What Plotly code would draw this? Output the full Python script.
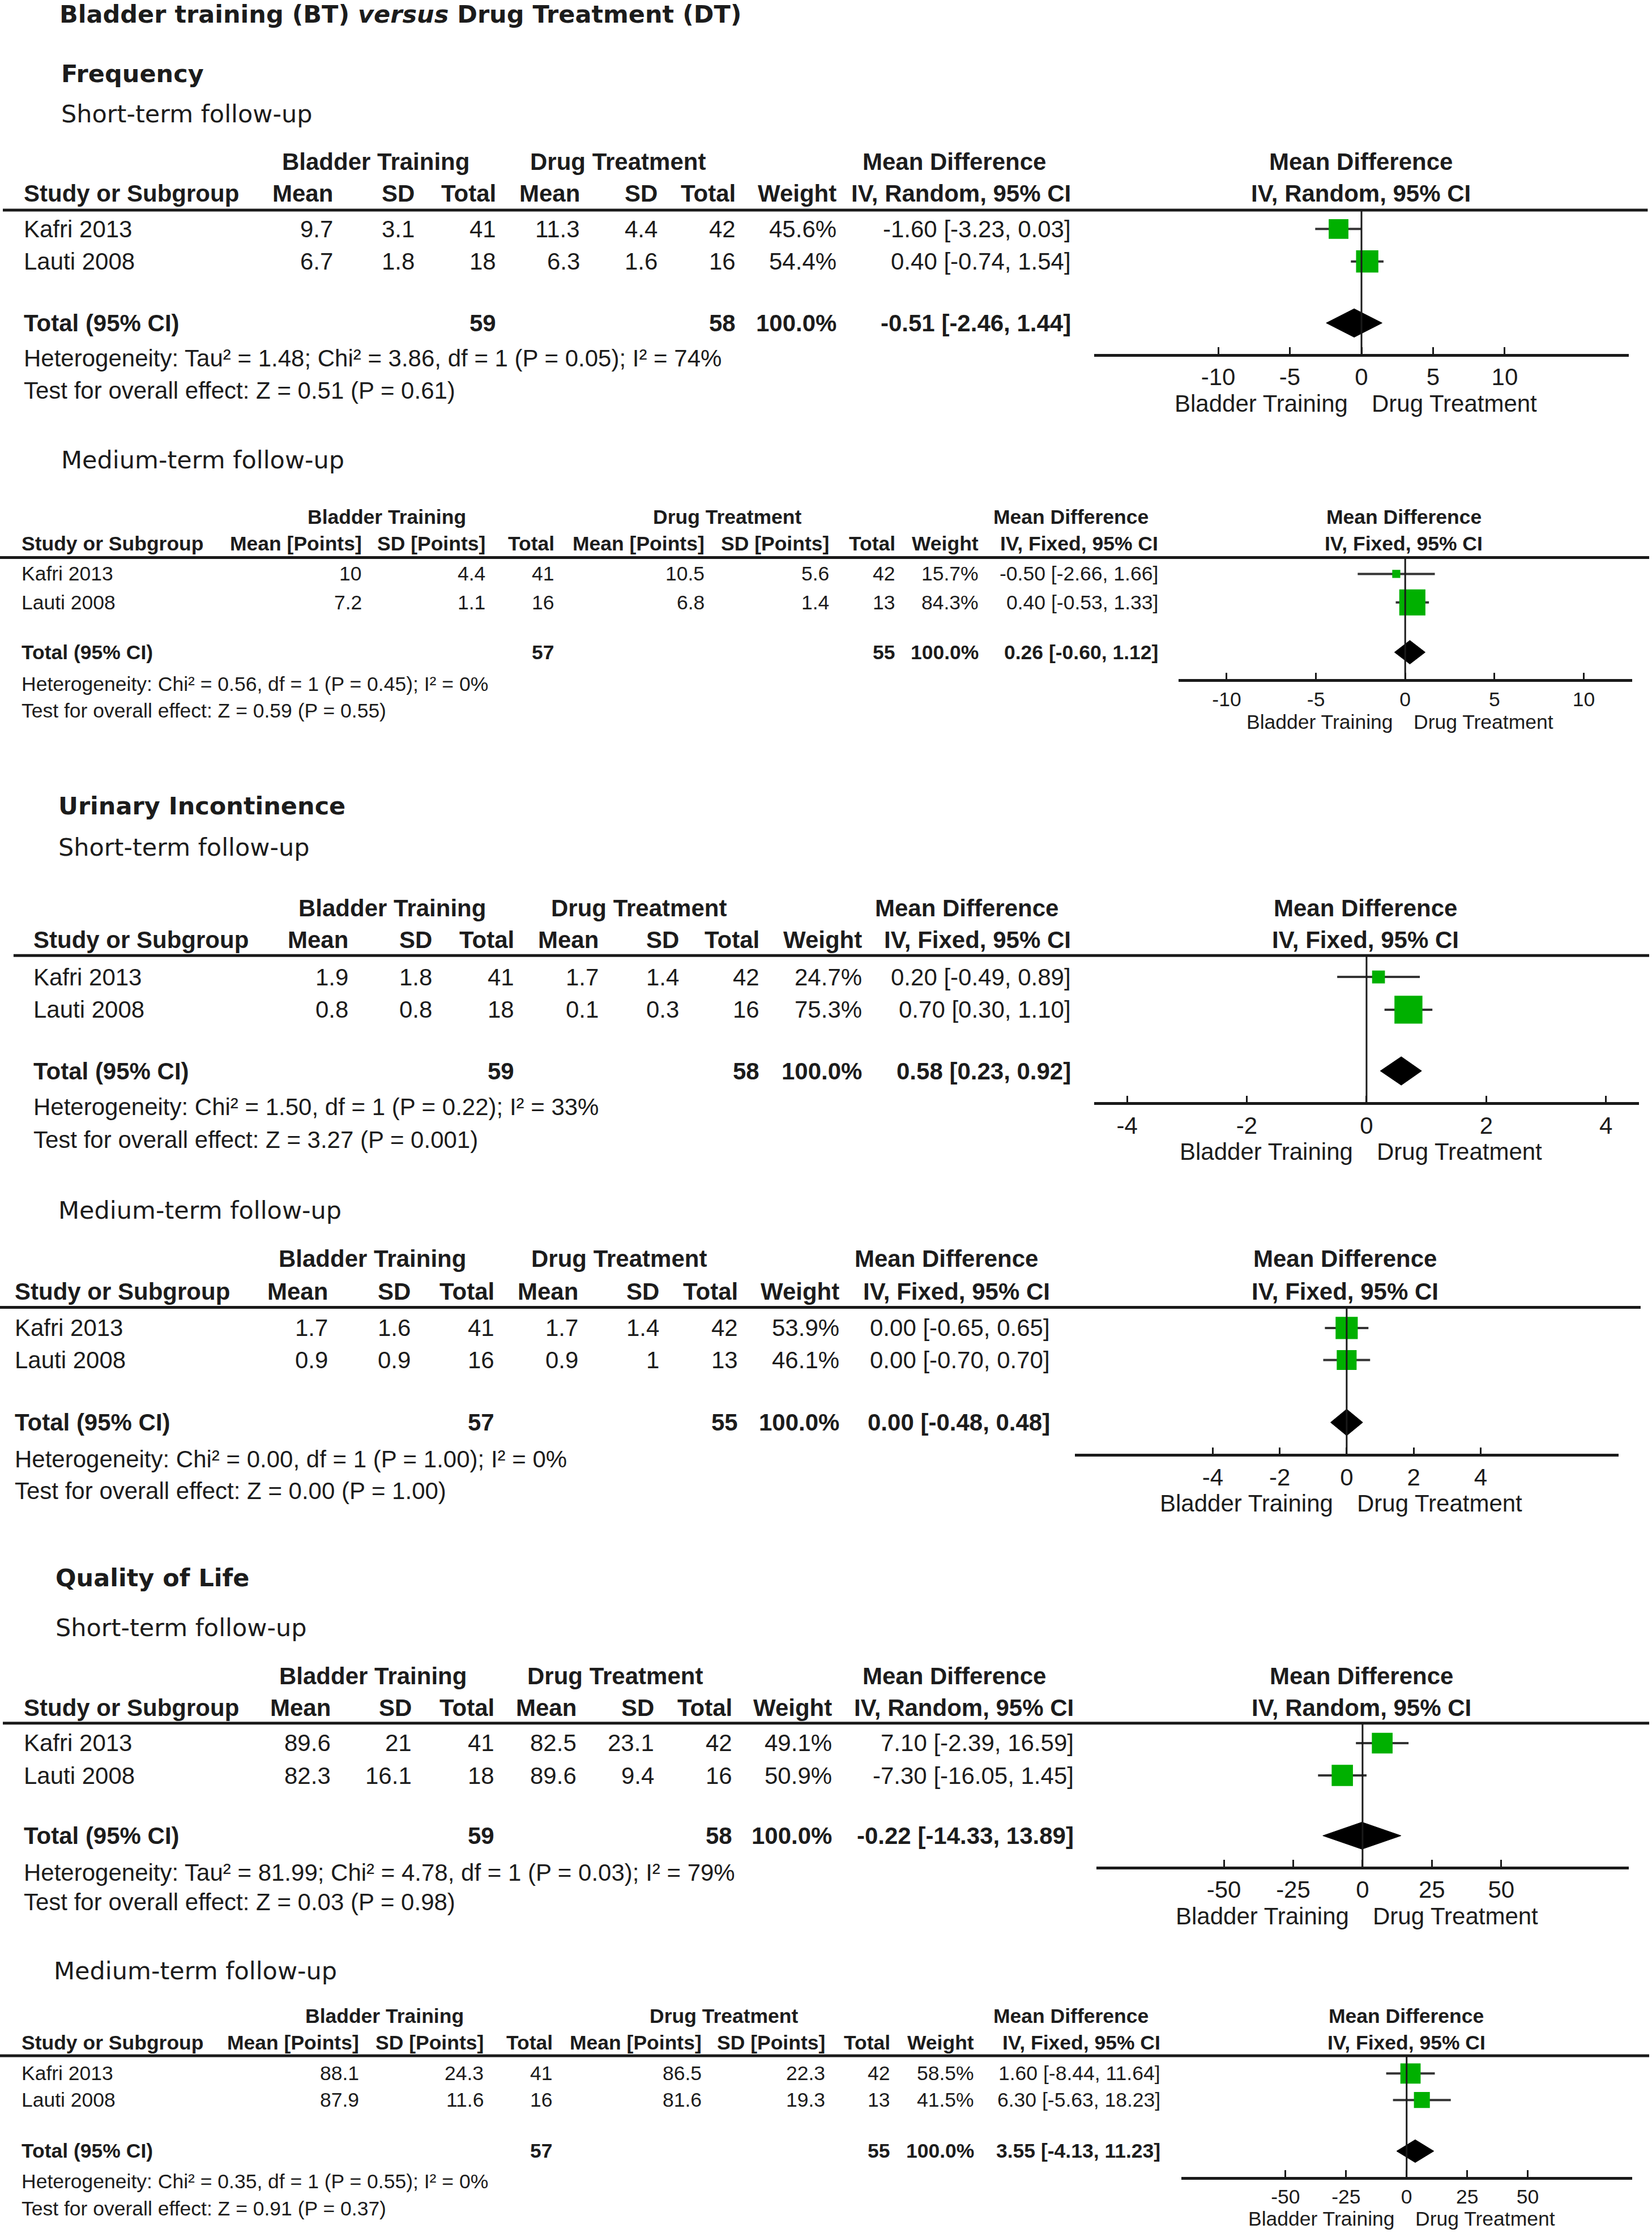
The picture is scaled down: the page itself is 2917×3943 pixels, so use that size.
import plotly.graph_objects as go

W, H = 2917, 3943
RW, RH = 1160.0, 1568.0   # reference layout units (scaled to the figure)

FONT = "Arial, Liberation Sans, Helvetica, sans-serif"
TFONT = "DejaVu Sans, Verdana, sans-serif"
TXT = "#1c1c1c"
GREEN = "#00B000"

# ---------------- data ----------------
studies = ["Kafri 2013", "Lauti 2008"]
total_label = "Total (95% CI)"
side_labels = ["Bladder Training", "Drug Treatment"]
group_labels = ["Bladder Training", "Drug Treatment", "Mean Difference"]

# Frequency, short-term
fs_bt_mean = [9.7, 6.7]
fs_bt_sd = [3.1, 1.8]
fs_bt_n = [41, 18]
fs_dt_mean = [11.3, 6.3]
fs_dt_sd = [4.4, 1.6]
fs_dt_n = [42, 16]
fs_weight = [45.6, 54.4]
fs_md = [-1.60, 0.40]
fs_lo = [-3.23, -0.74]
fs_hi = [0.03, 1.54]
fs_total = [-0.51, -2.46, 1.44]
fs_ticks = [-10, -5, 0, 5, 10]
fs_het = "Heterogeneity: Tau² = 1.48; Chi² = 3.86, df = 1 (P = 0.05); I² = 74%"
fs_test = "Test for overall effect: Z = 0.51 (P = 0.61)"

# Frequency, medium-term
fm_bt_mean = [10, 7.2]
fm_bt_sd = [4.4, 1.1]
fm_bt_n = [41, 16]
fm_dt_mean = [10.5, 6.8]
fm_dt_sd = [5.6, 1.4]
fm_dt_n = [42, 13]
fm_weight = [15.7, 84.3]
fm_md = [-0.50, 0.40]
fm_lo = [-2.66, -0.53]
fm_hi = [1.66, 1.33]
fm_total = [0.26, -0.60, 1.12]
fm_ticks = [-10, -5, 0, 5, 10]
fm_het = "Heterogeneity: Chi² = 0.56, df = 1 (P = 0.45); I² = 0%"
fm_test = "Test for overall effect: Z = 0.59 (P = 0.55)"

# Urinary incontinence, short-term
us_bt_mean = [1.9, 0.8]
us_bt_sd = [1.8, 0.8]
us_bt_n = [41, 18]
us_dt_mean = [1.7, 0.1]
us_dt_sd = [1.4, 0.3]
us_dt_n = [42, 16]
us_weight = [24.7, 75.3]
us_md = [0.20, 0.70]
us_lo = [-0.49, 0.30]
us_hi = [0.89, 1.10]
us_total = [0.58, 0.23, 0.92]
us_ticks = [-4, -2, 0, 2, 4]
us_het = "Heterogeneity: Chi² = 1.50, df = 1 (P = 0.22); I² = 33%"
us_test = "Test for overall effect: Z = 3.27 (P = 0.001)"

# Urinary incontinence, medium-term
um_bt_mean = [1.7, 0.9]
um_bt_sd = [1.6, 0.9]
um_bt_n = [41, 16]
um_dt_mean = [1.7, 0.9]
um_dt_sd = [1.4, 1]
um_dt_n = [42, 13]
um_weight = [53.9, 46.1]
um_md = [0.00, 0.00]
um_lo = [-0.65, -0.70]
um_hi = [0.65, 0.70]
um_total = [0.00, -0.48, 0.48]
um_ticks = [-4, -2, 0, 2, 4]
um_het = "Heterogeneity: Chi² = 0.00, df = 1 (P = 1.00); I² = 0%"
um_test = "Test for overall effect: Z = 0.00 (P = 1.00)"

# Quality of life, short-term
qs_bt_mean = [89.6, 82.3]
qs_bt_sd = [21, 16.1]
qs_bt_n = [41, 18]
qs_dt_mean = [82.5, 89.6]
qs_dt_sd = [23.1, 9.4]
qs_dt_n = [42, 16]
qs_weight = [49.1, 50.9]
qs_md = [7.10, -7.30]
qs_lo = [-2.39, -16.05]
qs_hi = [16.59, 1.45]
qs_total = [-0.22, -14.33, 13.89]
qs_ticks = [-50, -25, 0, 25, 50]
qs_het = "Heterogeneity: Tau² = 81.99; Chi² = 4.78, df = 1 (P = 0.03); I² = 79%"
qs_test = "Test for overall effect: Z = 0.03 (P = 0.98)"

# Quality of life, medium-term
qm_bt_mean = [88.1, 87.9]
qm_bt_sd = [24.3, 11.6]
qm_bt_n = [41, 16]
qm_dt_mean = [86.5, 81.6]
qm_dt_sd = [22.3, 19.3]
qm_dt_n = [42, 13]
qm_weight = [58.5, 41.5]
qm_md = [1.60, 6.30]
qm_lo = [-8.44, -5.63]
qm_hi = [11.64, 18.23]
qm_total = [3.55, -4.13, 11.23]
qm_ticks = [-50, -25, 0, 25, 50]
qm_het = "Heterogeneity: Chi² = 0.35, df = 1 (P = 0.55); I² = 0%"
qm_test = "Test for overall effect: Z = 0.91 (P = 0.37)"

section_titles = [
    ("<b>Bladder training (BT) <i>versus</i> Drug Treatment (DT)</b>", 41, 10),
    ("<b>Frequency</b>", 42, 51.7),
    ("Short-term follow-up", 42, 80),
    ("Medium-term follow-up", 42, 323),
    ("<b>Urinary Incontinence</b>", 40, 566),
    ("Short-term follow-up", 40, 595),
    ("Medium-term follow-up", 40, 850),
    ("<b>Quality of Life</b>", 38, 1108),
    ("Short-term follow-up", 38, 1143),
    ("Medium-term follow-up", 37, 1384),
]

# ---------------- panels (data refs + layout) ----------------
panels = [
    dict(bt_mean=fs_bt_mean, bt_sd=fs_bt_sd, bt_n=fs_bt_n, dt_mean=fs_dt_mean, dt_sd=fs_dt_sd,
         dt_n=fs_dt_n, weight=fs_weight, md=fs_md, lo=fs_lo, hi=fs_hi, total=fs_total,
         ticks=fs_ticks, het=fs_het, test=fs_test, method="IV, Random, 95% CI",
         mean_lbl="Mean", sd_lbl="SD",
         fs=42, study_x=16, cols=[234.8, 292, 349, 408, 462.4, 517.5, 588, 752.8],
         grp=[264, 433.8, 670], plot_hdr=955.5, y_grp=113.6, y_hdr=136, y_line=147.5,
         line_x=[2, 1157], rows=[160.8, 183.6], y_tot=226.8, y_het=251.6, y_test=274,
         ax_y=248.6, ax_x=[768.3, 1143.7], rng=18.66, y_side=283.5, dia=10, k=2.4,
         bt_shift=-22, dt_shift=16),
    dict(bt_mean=fm_bt_mean, bt_sd=fm_bt_sd, bt_n=fm_bt_n, dt_mean=fm_dt_mean, dt_sd=fm_dt_sd,
         dt_n=fm_dt_n, weight=fm_weight, md=fm_md, lo=fm_lo, hi=fm_hi, total=fm_total,
         ticks=fm_ticks, het=fm_het, test=fm_test, method="IV, Fixed, 95% CI",
         mean_lbl="Mean [Points]", sd_lbl="SD [Points]",
         fs=35.5, study_x=14.5, cols=[255, 341.7, 390, 495.5, 583, 629.5, 688, 814],
         grp=[271.6, 511, 752], plot_hdr=985.8, y_grp=363, y_hdr=381.8, y_line=391.5,
         line_x=[0, 1158], rows=[403, 423], y_tot=458, y_het=480.5, y_test=499,
         ax_y=477, ax_x=[827.5, 1145.9], rng=12.7, y_side=507, dia=8.3, k=2.07,
         bt_shift=-19, dt_shift=13),
    dict(bt_mean=us_bt_mean, bt_sd=us_bt_sd, bt_n=us_bt_n, dt_mean=us_dt_mean, dt_sd=us_dt_sd,
         dt_n=us_dt_n, weight=us_weight, md=us_md, lo=us_lo, hi=us_hi, total=us_total,
         ticks=us_ticks, het=us_het, test=us_test, method="IV, Fixed, 95% CI",
         mean_lbl="Mean", sd_lbl="SD",
         fs=42, study_x=22.8, cols=[245.5, 304.4, 362, 421, 477.5, 534, 606, 752.8],
         grp=[275.5, 448.5, 679], plot_hdr=958.6, y_grp=637.5, y_hdr=660, y_line=671,
         line_x=[9.5, 1158], rows=[686, 709], y_tot=752, y_het=777.4, y_test=800.5,
         ax_y=774, ax_x=[768.3, 1150.8], rng=4.55, y_side=808.5, dia=10, k=2.4,
         bt_shift=-22, dt_shift=16),
    dict(bt_mean=um_bt_mean, bt_sd=um_bt_sd, bt_n=um_bt_n, dt_mean=um_dt_mean, dt_sd=um_dt_sd,
         dt_n=um_dt_n, weight=um_weight, md=um_md, lo=um_lo, hi=um_hi, total=um_total,
         ticks=um_ticks, het=um_het, test=um_test, method="IV, Fixed, 95% CI",
         mean_lbl="Mean", sd_lbl="SD",
         fs=42, study_x=9.5, cols=[231, 289, 348, 407, 463.5, 519, 590, 738],
         grp=[261.6, 434.6, 664.6], plot_hdr=944.5, y_grp=884, y_hdr=906.7, y_line=918,
         line_x=[0, 1152], rows=[932.5, 955], y_tot=998.8, y_het=1024.7, y_test=1047,
         ax_y=1021, ax_x=[754.7, 1136.5], rng=8.12, y_side=1055.5, dia=9.3, k=2.4,
         bt_shift=-22, dt_shift=16),
    dict(bt_mean=qs_bt_mean, bt_sd=qs_bt_sd, bt_n=qs_bt_n, dt_mean=qs_dt_mean, dt_sd=qs_dt_sd,
         dt_n=qs_dt_n, weight=qs_weight, md=qs_md, lo=qs_lo, hi=qs_hi, total=qs_total,
         ticks=qs_ticks, het=qs_het, test=qs_test, method="IV, Random, 95% CI",
         mean_lbl="Mean", sd_lbl="SD",
         fs=42, study_x=16, cols=[233, 290, 348, 405.6, 460, 515, 585, 754.7],
         grp=[262, 432, 670], plot_hdr=956, y_grp=1177, y_hdr=1199, y_line=1210,
         line_x=[2, 1158], rows=[1224, 1246.7], y_tot=1289, y_het=1315, y_test=1335.5,
         ax_y=1310.7, ax_x=[769.8, 1143.7], rng=96, y_side=1345.5, dia=9.5, k=2.4,
         bt_shift=-22, dt_shift=16),
    dict(bt_mean=qm_bt_mean, bt_sd=qm_bt_sd, bt_n=qm_bt_n, dt_mean=qm_dt_mean, dt_sd=qm_dt_sd,
         dt_n=qm_dt_n, weight=qm_weight, md=qm_md, lo=qm_lo, hi=qm_hi, total=qm_total,
         ticks=qm_ticks, het=qm_het, test=qm_test, method="IV, Fixed, 95% CI",
         mean_lbl="Mean [Points]", sd_lbl="SD [Points]",
         fs=35.5, study_x=14.5, cols=[253, 340.6, 389, 493.6, 580, 626, 684.8, 815.8],
         grp=[270, 508.6, 752], plot_hdr=987.5, y_grp=1415.7, y_hdr=1434.3, y_line=1443.5,
         line_x=[0, 1158], rows=[1456, 1474.6], y_tot=1510.5, y_het=1532, y_test=1551,
         ax_y=1528.6, ax_x=[829.5, 1145.9], rng=93, y_side=1558, dia=8, k=2.07,
         bt_shift=-19, dt_shift=13),
]


def fx(xd):
    return xd / RW


def fy(yd):
    return 1 - yd / RH


def fmt(v):
    return f"{v:g}"


def ci(m, l, h):
    return f"{m:.2f} [{l:.2f}, {h:.2f}]"


annotations = []
shapes = []
traces = []
layout_axes = {}


def ann(text, xd, yd, size, anchor="left", family=FONT):
    annotations.append(dict(
        text=text, x=fx(xd), y=fy(yd), xref="paper", yref="paper",
        xanchor=anchor, yanchor="middle", showarrow=False,
        font=dict(family=family, size=size, color=TXT)))


for text, xd, yd in section_titles:
    ann(text, xd, yd, 43, "left", TFONT)

for i, p in enumerate(panels):
    n = i + 1
    xa_id, xo_id, ya_id = 2 * n - 1, 2 * n, n
    xa = "x" if xa_id == 1 else f"x{xa_id}"
    ya = "y" if ya_id == 1 else f"y{ya_id}"
    fs = p["fs"]
    c = p["cols"]

    # group header row
    ann("<b>%s</b>" % group_labels[0], p["grp"][0], p["y_grp"], fs, "center")
    ann("<b>%s</b>" % group_labels[1], p["grp"][1], p["y_grp"], fs, "center")
    ann("<b>%s</b>" % group_labels[2], p["grp"][2], p["y_grp"], fs, "center")
    ann("<b>%s</b>" % group_labels[2], p["plot_hdr"], p["y_grp"], fs, "center")
    # column header row
    ann("<b>Study or Subgroup</b>", p["study_x"], p["y_hdr"], fs, "left")
    hdrs = [p["mean_lbl"], p["sd_lbl"], "Total", p["mean_lbl"], p["sd_lbl"], "Total",
            "Weight", p["method"]]
    for h, xr in zip(hdrs, c):
        ann("<b>%s</b>" % h, xr, p["y_hdr"], fs, "right")
    ann("<b>%s</b>" % p["method"], p["plot_hdr"], p["y_hdr"], fs, "center")

    # header rule
    shapes.append(dict(type="line", xref="paper", yref="paper",
                       x0=fx(p["line_x"][0]), x1=fx(p["line_x"][1]),
                       y0=fy(p["y_line"]), y1=fy(p["y_line"]),
                       line=dict(color="#1a1a1a", width=5)))

    # study rows
    for j, s in enumerate(studies):
        yd = p["rows"][j]
        ann(s, p["study_x"], yd, fs, "left")
        vals = [fmt(p["bt_mean"][j]), fmt(p["bt_sd"][j]), str(p["bt_n"][j]),
                fmt(p["dt_mean"][j]), fmt(p["dt_sd"][j]), str(p["dt_n"][j]),
                f"{p['weight'][j]:.1f}%", ci(p["md"][j], p["lo"][j], p["hi"][j])]
        for v, xr in zip(vals, c):
            ann(v, xr, yd, fs, "right")

    # total row
    tm, tl, th = p["total"]
    ann("<b>%s</b>" % total_label, p["study_x"], p["y_tot"], fs, "left")
    ann("<b>%d</b>" % sum(p["bt_n"]), c[2], p["y_tot"], fs, "right")
    ann("<b>%d</b>" % sum(p["dt_n"]), c[5], p["y_tot"], fs, "right")
    ann("<b>%.1f%%</b>" % sum(p["weight"]), c[6], p["y_tot"], fs, "right")
    ann("<b>%s</b>" % ci(tm, tl, th), c[7], p["y_tot"], fs, "right")
    ann(p["het"], p["study_x"], p["y_het"], fs, "left")
    ann(p["test"], p["study_x"], p["y_test"], fs, "left")

    # ----- forest plot -----
    rows = p["rows"]
    cx, cy = [], []
    for j in range(len(studies)):
        cx += [p["lo"][j], p["hi"][j], None]
        cy += [rows[j], rows[j], None]
    traces.append(go.Scatter(x=cx, y=cy, mode="lines", xaxis=xa, yaxis=ya,
                             line=dict(color="#333333", width=4), hoverinfo="skip",
                             showlegend=False))
    traces.append(go.Scatter(x=p["md"], y=rows, mode="markers", xaxis=xa, yaxis=ya,
                             marker=dict(symbol="square", color=GREEN, opacity=1,
                                         size=[p["k"] * w ** 0.7 for w in p["weight"]],
                                         line=dict(width=0)),
                             showlegend=False))
    yt, d = p["y_tot"], p["dia"]
    traces.append(go.Scatter(x=[tl, tm, th, tm, tl], y=[yt, yt - d, yt, yt + d, yt],
                             mode="lines", fill="toself", fillcolor="#000000",
                             line=dict(color="#000000", width=1), xaxis=xa, yaxis=ya,
                             showlegend=False))

    # reference line at zero
    shapes.append(dict(type="line", xref=xa, yref=ya, x0=0, x1=0,
                       y0=p["y_line"], y1=p["ax_y"], layer="above",
                       line=dict(color="#1a1a1a", width=3)))

    dom_x = [fx(p["ax_x"][0]), fx(p["ax_x"][1])]
    xkey = "xaxis" if xa_id == 1 else f"xaxis{xa_id}"
    layout_axes[xkey] = dict(
        domain=dom_x, anchor=ya, range=[-p["rng"], p["rng"]],
        tickmode="array", tickvals=p["ticks"], ticktext=[str(t) for t in p["ticks"]],
        ticks="inside", ticklen=12, tickwidth=3, tickcolor="#1a1a1a",
        showline=True, linecolor="#1a1a1a", linewidth=4.5,
        showgrid=False, zeroline=False,
        tickfont=dict(family=FONT, size=fs, color=TXT), fixedrange=True)
    layout_axes[f"xaxis{xo_id}"] = dict(
        domain=dom_x, anchor=ya, overlaying=xa, matches=xa,
        tickmode="array", tickvals=p["ticks"], ticks="outside", ticklen=12,
        tickwidth=3, tickcolor="#1a1a1a", showticklabels=False, showline=False,
        showgrid=False, zeroline=False, fixedrange=True)
    ykey = "yaxis" if ya_id == 1 else f"yaxis{ya_id}"
    layout_axes[ykey] = dict(
        domain=[fy(p["ax_y"]), fy(p["y_line"])], range=[p["ax_y"], p["y_line"]],
        visible=False, showgrid=False, zeroline=False, fixedrange=True)

    # favours labels
    annotations.append(dict(text=side_labels[0], x=0, xref=xa, y=fy(p["y_side"]),
                            yref="paper", xanchor="right", yanchor="middle",
                            xshift=p["bt_shift"], showarrow=False,
                            font=dict(family=FONT, size=fs, color=TXT)))
    annotations.append(dict(text=side_labels[1], x=0, xref=xa, y=fy(p["y_side"]),
                            yref="paper", xanchor="left", yanchor="middle",
                            xshift=p["dt_shift"], showarrow=False,
                            font=dict(family=FONT, size=fs, color=TXT)))

fig = go.Figure(data=traces)
fig.update_layout(
    width=W, height=H, margin=dict(l=0, r=0, t=0, b=0),
    paper_bgcolor="white", plot_bgcolor="rgba(0,0,0,0)",
    showlegend=False, annotations=annotations, shapes=shapes,
    **layout_axes)

fig.write_html("out.html", config={"displayModeBar": False},
               post_script="document.body.style.margin='0';")
